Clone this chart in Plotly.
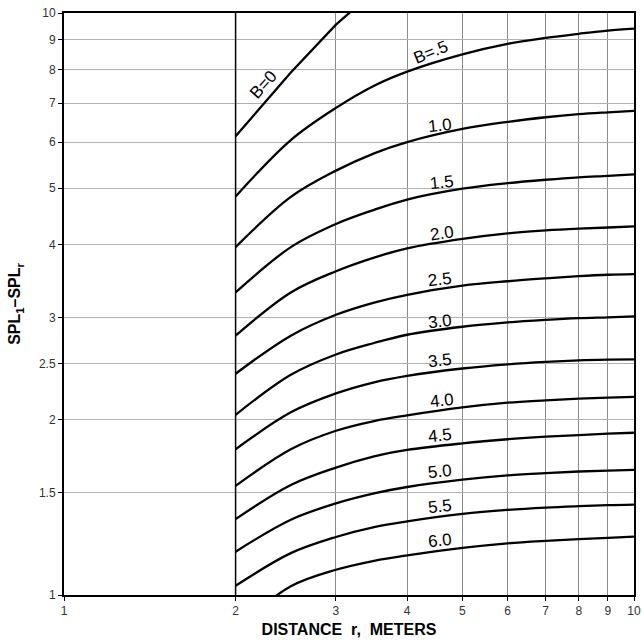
import math
import plotly.graph_objects as go

# Distances (m) at which curves were read
DIST = [2, 2.5, 3, 3.5, 4, 5, 6, 7, 8, 9, 10]

# B = 0 curve (nearly straight on log-log, leaves chart at top)
DIST_B0 = [2, 2.5, 3, 3.5]
SPL_B0 = [6.14, 7.9, 9.55, 10.9]

B_LABELS = ["B=.5", "1.0", "1.5", "2.0", "2.5", "3.0", "3.5", "4.0", "4.5", "5.0", "5.5", "6.0"]
SPL_B05 = [4.84, 6.05, 6.87, 7.50, 7.93, 8.49, 8.85, 9.06, 9.21, 9.33, 9.40]
SPL_B10 = [3.96, 4.83, 5.36, 5.74, 6.00, 6.32, 6.50, 6.62, 6.70, 6.75, 6.79]
SPL_B15 = [3.31, 3.96, 4.34, 4.59, 4.78, 4.99, 5.10, 5.17, 5.22, 5.25, 5.28]
SPL_B20 = [2.79, 3.31, 3.60, 3.80, 3.94, 4.09, 4.18, 4.23, 4.26, 4.28, 4.30]
SPL_B25 = [2.40, 2.79, 3.03, 3.18, 3.28, 3.40, 3.46, 3.50, 3.53, 3.55, 3.56]
SPL_B30 = [2.04, 2.39, 2.59, 2.71, 2.80, 2.89, 2.94, 2.97, 2.99, 3.00, 3.01]
SPL_B35 = [1.78, 2.06, 2.22, 2.32, 2.38, 2.45, 2.49, 2.515, 2.53, 2.537, 2.54]
SPL_B40 = [1.54, 1.78, 1.915, 1.99, 2.035, 2.10, 2.14, 2.16, 2.175, 2.184, 2.19]
SPL_B45 = [1.35, 1.545, 1.655, 1.73, 1.775, 1.822, 1.852, 1.871, 1.883, 1.893, 1.90]
SPL_B50 = [1.187, 1.347, 1.437, 1.495, 1.533, 1.578, 1.605, 1.62, 1.63, 1.636, 1.64]
SPL_B55 = [1.037, 1.18, 1.258, 1.308, 1.338, 1.378, 1.40, 1.413, 1.421, 1.427, 1.43]
SPL_B60 = [0.875, 1.035, 1.105, 1.145, 1.17, 1.205, 1.227, 1.239, 1.247, 1.254, 1.26]
CURVES = [SPL_B05, SPL_B10, SPL_B15, SPL_B20, SPL_B25, SPL_B30,
          SPL_B35, SPL_B40, SPL_B45, SPL_B50, SPL_B55, SPL_B60]

# label anchor positions (data coords) and angles
LABEL_X = [4.39, 4.57, 4.6, 4.6, 4.57, 4.57, 4.57, 4.6, 4.57, 4.57, 4.57, 4.57]
LABEL_Y = [8.56, 6.41, 5.11, 4.18, 3.48, 2.95, 2.53, 2.16, 1.883, 1.628, 1.422, 1.243]
LABEL_ANGLE = [-22, -6, -6, -8, -6, -6, -6, -6, -6, -6, -6, -6]
B0_LABEL = ("B=0", 2.24, 7.54, -48)

START_R = 2
X_TICKS = [1, 2, 3, 4, 5, 6, 7, 8, 9, 10]
Y_TICKS = [1, 1.5, 2, 2.5, 3, 4, 5, 6, 7, 8, 9, 10]
Y_TICK_TEXT = ["1", "1.5", "2", "2.5", "3", "4", "5", "6", "7", "8", "9", "10"]

FONT = "Liberation Sans, Arial, Helvetica, sans-serif"

fig = go.Figure()
fig.add_trace(go.Scatter(x=DIST_B0, y=SPL_B0, mode="lines",
                         line=dict(color="black", width=2.3),
                         showlegend=False, hoverinfo="skip"))
for ys in CURVES:
    fig.add_trace(go.Scatter(x=DIST, y=ys, mode="lines",
                             line=dict(color="black", width=2.3, shape="spline", smoothing=1.0),
                             showlegend=False, hoverinfo="skip"))

for t, x, y, a in zip(B_LABELS, LABEL_X, LABEL_Y, LABEL_ANGLE):
    fig.add_annotation(x=math.log10(x), y=math.log10(y), xref="x", yref="y", text=t,
                       showarrow=False, textangle=a,
                       font=dict(family=FONT, size=17, color="black"))
t, x, y, a = B0_LABEL
fig.add_annotation(x=math.log10(x), y=math.log10(y), xref="x", yref="y", text=t,
                   showarrow=False, textangle=a,
                   font=dict(family=FONT, size=17, color="black"))

fig.add_shape(type="line", xref="x", yref="paper", x0=START_R, x1=START_R, y0=0, y1=1,
              line=dict(color="black", width=1.5))

fig.update_xaxes(type="log", range=[0, 1], tickvals=X_TICKS, ticktext=[str(v) for v in X_TICKS],
                 showgrid=True, gridcolor="#8a8a8a", gridwidth=1,
                 showline=True, linecolor="black", linewidth=2, mirror=True,
                 ticks="outside", ticklen=4, tickcolor="black",
                 tickfont=dict(family=FONT, size=12, color="#333"),
                 ticklabeloverflow="allow",
                 title=dict(text="<b>DISTANCE  r,  METERS</b>", standoff=6,
                            font=dict(family=FONT, size=16, color="black")),
                 zeroline=False, automargin=False)
fig.update_yaxes(type="log", range=[0, 1], tickvals=Y_TICKS, ticktext=Y_TICK_TEXT,
                 showgrid=True, gridcolor="#b0b0b0", gridwidth=1,
                 showline=True, linecolor="black", linewidth=2, mirror=True,
                 ticks="outside", ticklen=4, tickcolor="black",
                 tickfont=dict(family=FONT, size=12, color="#333"),
                 ticklabeloverflow="allow",
                 title=dict(text="<b>SPL<sub>1</sub>–SPL<sub>r</sub></b>", standoff=14,
                            font=dict(family=FONT, size=16, color="black")),
                 zeroline=False, automargin=False)

fig.update_layout(width=642, height=644, margin=dict(l=64, r=8, t=13, b=49),
                  paper_bgcolor="white", plot_bgcolor="white")

fig.write_html("out.html", config={"displayModeBar": False},
               post_script="document.body.style.margin='0';")
